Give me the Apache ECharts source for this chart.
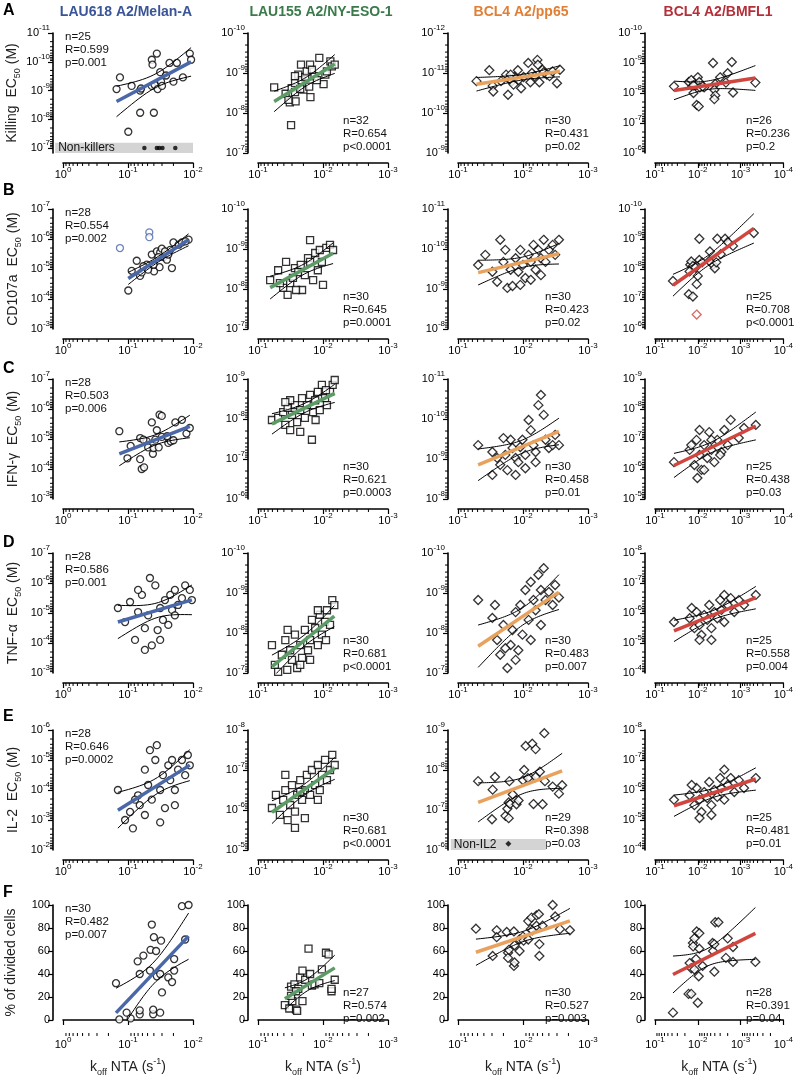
<!DOCTYPE html>
<html>
<head>
<meta charset="utf-8">
<title>koff vs EC50</title>
<script src="https://cdn.jsdelivr.net/npm/echarts@6.0.0/dist/echarts.min.js"></script>
<style>
  html, body { margin: 0; padding: 0; background: #fff; }
  #main { width: 796px; height: 1082px; }
</style>
</head>
<body>
<div id="main"></div>
<script>
const FONT = '"Liberation Sans", Arial, sans-serif'

// ---- text ----
const colTitles = ['LAU618 A2/Melan-A', 'LAU155 A2/NY-ESO-1', 'BCL4 A2/pp65', 'BCL4 A2/BMFL1']
const titleColors = ['#3a5597', '#3b7a4a', '#e07f35', '#b3303a']
const fitColors = ['#4a67a8', '#5c9b65', '#e9a25e', '#d0463f']
const rowLetters = ['A', 'B', 'C', 'D', 'E', 'F']
const rowNames = ['Killing  EC', 'CD107a  EC', 'IFN-\u03b3  EC', 'TNF-\u03b1  EC', 'IL-2  EC', '% of divided cells']

// x axis decades per column (log10), y axis decades per row/column
const xDecades = [[-2, 0], [-3, -1], [-3, -1], [-4, -1]]
const yDecades = [
  [[-11, -7], [-10, -7], [-12, -9], [-10, -6]],
  [[-7, -3], [-10, -7], [-11, -8], [-10, -6]],
  [[-7, -3], [-9, -6], [-11, -8], [-9, -5]],
  [[-7, -3], [-10, -7], [-10, -7], [-8, -4]],
  [[-6, -2], [-8, -5], [-9, -6], [-8, -4]],
]

const statN = [[25, 32, 30, 26], [28, 30, 30, 25], [28, 30, 30, 25], [28, 30, 30, 25], [28, 30, 29, 25], [30, 27, 30, 28]]
const statR = [
  ['0.599', '0.654', '0.431', '0.236'],
  ['0.554', '0.645', '0.423', '0.708'],
  ['0.503', '0.621', '0.458', '0.438'],
  ['0.586', '0.681', '0.483', '0.558'],
  ['0.646', '0.681', '0.398', '0.481'],
  ['0.482', '0.574', '0.527', '0.391'],
]
const statP = [
  ['=0.001', '<0.0001', '=0.02', '=0.2'],
  ['=0.002', '=0.0001', '=0.02', '<0.0001'],
  ['=0.006', '=0.0003', '=0.01', '=0.03'],
  ['=0.001', '<0.0001', '=0.007', '=0.004'],
  ['=0.0002', '<0.0001', '=0.03', '=0.01'],
  ['=0.007', '=0.002', '=0.003', '=0.04'],
]

// ---- data: [koff (s-1), EC50 (M) or % divided] ----
const a1 = [[0.15, 8.9e-10], [0.133, 3.5e-10], [0.088, 6.9e-10], [0.065, 1.0e-9], [0.063, 8.5e-10], [0.065, 5.9e-9],
  [0.040, 5.9e-9], [0.099, 2.7e-8], [0.043, 8.5e-11], [0.042, 1.26e-10], [0.036, 5.2e-11], [0.032, 2.3e-10],
  [0.043, 6.9e-10], [0.039, 6.3e-10], [0.035, 8.9e-10], [0.031, 4.9e-10], [0.030, 6.9e-10], [0.023, 1.1e-10],
  [0.020, 4.9e-10], [0.0177, 1.1e-10], [0.0143, 3.5e-10], [0.0112, 5.2e-11], [0.0107, 8.5e-11], [0.026, 3.0e-10]]
const a1NonKillers = [[0.056, 1e-7], [0.036, 1e-7], [0.033, 1e-7], [0.0295, 1e-7], [0.0187, 1e-7]]
const a2 = [[0.0564, 2.3e-9], [0.0376, 3.3e-9], [0.0324, 5.4e-9], [0.0264, 5.1e-9], [0.0303, 2.4e-9], [0.0269, 1.8e-9],
  [0.024, 1.1e-9], [0.0218, 6.2e-10], [0.0214, 1.5e-9], [0.02, 2.6e-9], [0.0188, 1.26e-9], [0.0178, 9.1e-10],
  [0.0163, 2.2e-9], [0.0158, 6.2e-10], [0.0156, 4e-9], [0.0135, 1.2e-9], [0.0114, 4.2e-10], [0.0098, 1.9e-9],
  [0.0092, 1.1e-9], [0.0087, 9.1e-10], [0.0077, 5.1e-10], [0.0073, 6.8e-10], [0.0066, 6.2e-10], [0.031, 2.0e-8],
  [0.034, 4.7e-9], [0.027, 3e-9], [0.0224, 2.5e-9], [0.0148, 8.3e-10], [0.0124, 1.5e-9], [0.027, 1.2e-9]]
const a3 = [[0.0519, 1.6e-11], [0.033, 8.5e-12], [0.0293, 2.1e-11], [0.0287, 2.9e-11], [0.0218, 1.6e-11], [0.0182, 1.1e-11],
  [0.017, 3.5e-11], [0.0166, 1.4e-11], [0.0148, 1.6e-11], [0.014, 1.95e-11], [0.0135, 1.26e-11], [0.012, 8.5e-12],
  [0.0117, 1.5e-11], [0.0107, 2.4e-11], [0.0098, 1.26e-11], [0.0083, 5.6e-12], [0.0077, 1.7e-11], [0.0073, 1e-11],
  [0.0066, 1.2e-11], [0.006, 4.7e-12], [0.0059, 6.2e-12], [0.0056, 1.7e-11], [0.005, 8.3e-12], [0.0048, 9.6e-12],
  [0.0043, 1.1e-11], [0.0039, 1.2e-11], [0.0035, 9.1e-12], [0.003, 1.8e-11], [0.0027, 8.3e-12], [0.0155, 1.1e-11]]
const a4 = [[0.036, 6e-9], [0.0162, 4.3e-9], [0.0142, 3.7e-9], [0.0134, 6e-9], [0.0126, 1e-8], [0.0113, 5.5e-9],
  [0.01, 3e-9], [0.0092, 4.3e-9], [0.0089, 6.5e-9], [0.0106, 2.5e-8], [0.0095, 2.8e-8], [0.0071, 6.5e-9],
  [0.0044, 1e-9], [0.0039, 5e-9], [0.0041, 7.8e-9], [0.0039, 1.2e-8], [0.0041, 1.6e-8], [0.003, 3e-9],
  [0.0022, 4.5e-9], [0.002, 2.2e-9], [0.0016, 9.3e-10], [0.0015, 9.6e-9], [0.00045, 4.5e-9], [0.0077, 6e-9], [0.0126, 5.5e-9]]

const b1 = [[0.099, 5.2e-5], [0.0877, 1.15e-5], [0.0734, 5.3e-6], [0.0652, 1.7e-5], [0.0615, 1.3e-5], [0.0513, 7.2e-6],
  [0.043, 3.3e-6], [0.0398, 1.2e-5], [0.036, 2.6e-6], [0.0327, 8.7e-6], [0.032, 2.8e-6], [0.0302, 2.1e-6],
  [0.0284, 4e-6], [0.0252, 4.9e-6], [0.024, 3.3e-6], [0.0224, 2.3e-6], [0.0211, 9.3e-6], [0.02, 1.3e-6],
  [0.0166, 1.55e-6], [0.0148, 1.3e-6], [0.0117, 1.05e-6], [0.049, 1.05e-5], [0.0405, 7.2e-6], [0.058, 8.1e-6],
  [0.027, 2.6e-6], [0.034, 4e-6], [0.013, 1.2e-6]]
const b1Excluded = [[0.133, 2e-6], [0.047, 6e-7], [0.047, 8.7e-7]]
const b2 = [[0.065, 6e-9], [0.049, 3.4e-9], [0.041, 9.4e-9], [0.037, 2.1e-9], [0.032, 7.1e-9], [0.029, 5.3e-9],
  [0.027, 3e-9], [0.024, 3.8e-9], [0.022, 2.5e-9], [0.021, 1.06e-8], [0.019, 4.5e-9], [0.017, 1.7e-9],
  [0.0158, 2.1e-9], [0.0142, 6e-9], [0.0132, 1.26e-9], [0.012, 3.4e-9], [0.0112, 1.06e-9], [0.01, 7.9e-9],
  [0.0089, 9.4e-10], [0.0078, 7.9e-10], [0.007, 1.06e-9], [0.026, 1.06e-8], [0.035, 1.4e-8], [0.0158, 6e-10],
  [0.0104, 2.1e-9], [0.046, 7.1e-9]]
const b3 = [[0.049, 2.5e-10], [0.0296, 3.7e-10], [0.025, 6.6e-10], [0.02, 2.1e-10], [0.0174, 9.4e-10], [0.0145, 8.4e-10],
  [0.0155, 3.3e-10], [0.013, 1.7e-10], [0.0118, 3.7e-10], [0.011, 1.05e-10], [0.01, 2.5e-10], [0.0092, 5.3e-10],
  [0.0082, 1.4e-10], [0.0076, 2.1e-10], [0.0069, 7.9e-11], [0.0064, 3.3e-10], [0.0058, 1.05e-10], [0.0053, 1.7e-10],
  [0.0048, 5.9e-11], [0.0045, 2.1e-10], [0.004, 1.05e-10], [0.0035, 7.9e-11], [0.0032, 1.4e-10], [0.0028, 5.9e-11],
  [0.0187, 1.05e-10], [0.0224, 5.9e-11], [0.011, 7.9e-10], [0.0076, 5.9e-10], [0.038, 1.4e-10], [0.0053, 4.5e-10]]
const b4 = [[0.038, 2.5e-8], [0.0162, 6.9e-8], [0.013, 8.3e-8], [0.015, 7.2e-9], [0.0142, 5.6e-9], [0.013, 7.9e-9],
  [0.0106, 3.2e-8], [0.01, 1.7e-8], [0.0092, 5e-9], [0.0092, 9.8e-10], [0.0079, 6e-9], [0.0052, 2.6e-9],
  [0.0044, 7.2e-9], [0.004, 9.5e-9], [0.0037, 6e-9], [0.0035, 9.8e-10], [0.0023, 9.8e-10], [0.002, 1.26e-9],
  [0.0015, 1.7e-9], [0.00049, 6.3e-10], [0.0113, 8.9e-9], [0.0054, 5.4e-9], [0.0155, 1.2e-8], [0.0029, 3.2e-9]]
const b4Excluded = [[0.0106, 3.3e-7]]

const c1 = [[0.136, 5.5e-6], [0.102, 4.4e-5], [0.091, 1.7e-5], [0.065, 4.7e-5], [0.0615, 1e-4], [0.0566, 8.8e-5],
  [0.065, 9.3e-6], [0.0513, 1.2e-5], [0.049, 1.9e-5], [0.043, 2.8e-6], [0.0414, 3.1e-5], [0.0405, 2e-5],
  [0.038, 1.05e-5], [0.036, 5.1e-6], [0.0327, 1.55e-6], [0.0302, 1.7e-6], [0.0302, 8.5e-6], [0.0337, 1.9e-5],
  [0.024, 1.35e-5], [0.022, 1.2e-5], [0.02, 1.1e-5], [0.0187, 2.8e-6], [0.0148, 2.3e-6], [0.0126, 6.6e-6],
  [0.0112, 4.3e-6], [0.025, 8.1e-6], [0.058, 1.05e-5]]
const c2 = [[0.061, 1.06e-8], [0.049, 9.4e-9], [0.041, 6.7e-9], [0.038, 1.4e-8], [0.035, 5.3e-9], [0.032, 1.9e-8],
  [0.030, 7.9e-9], [0.027, 4.5e-9], [0.025, 1.2e-8], [0.0224, 6e-9], [0.021, 3e-9], [0.019, 9.4e-9],
  [0.0177, 4.5e-9], [0.0158, 2.5e-9], [0.0148, 3.3e-8], [0.0142, 6.7e-9], [0.0132, 3.4e-9], [0.012, 2.1e-9],
  [0.0112, 6e-9], [0.0104, 1.4e-9], [0.0093, 3e-9], [0.0087, 4.5e-9], [0.0078, 2.1e-9], [0.0071, 1.4e-9],
  [0.0066, 1.06e-9], [0.0224, 2.1e-8], [0.032, 3.4e-9], [0.013, 1.06e-8], [0.009, 1.9e-9], [0.038, 3.8e-9]]
const c3 = [[0.049, 4.5e-10], [0.0296, 6.7e-10], [0.025, 9.4e-10], [0.0224, 1.4e-9], [0.0187, 7.9e-10], [0.0174, 1.9e-9],
  [0.0155, 3.3e-10], [0.0145, 5.3e-10], [0.013, 9.4e-10], [0.0118, 1.2e-9], [0.011, 5e-10], [0.0102, 3.3e-10],
  [0.0092, 7.9e-10], [0.0082, 1.06e-10], [0.0076, 1.9e-10], [0.0069, 4.5e-10], [0.0064, 6.7e-10], [0.0058, 4.5e-11],
  [0.0053, 2.5e-11], [0.0048, 7.9e-11], [0.0045, 3.3e-10], [0.004, 5.3e-10], [0.0035, 4.5e-10], [0.0032, 2.5e-10],
  [0.0028, 4.5e-10], [0.02, 3e-10], [0.0296, 2.5e-9], [0.013, 2.5e-9], [0.0092, 1.7e-9], [0.0064, 1.2e-9]]
const c4 = [[0.036, 5.9e-7], [0.0155, 2.3e-7], [0.012, 7.4e-7], [0.0107, 1.07e-7], [0.0091, 3.4e-7], [0.0082, 1.07e-6],
  [0.0071, 1.6e-7], [0.006, 4.3e-7], [0.0054, 5.9e-8], [0.0048, 2.3e-7], [0.0041, 5.9e-7], [0.0035, 1.07e-7],
  [0.0028, 2.7e-7], [0.0024, 5e-8], [0.002, 1.6e-7], [0.0017, 2.3e-8], [0.0011, 9.3e-8], [0.00083, 4.3e-8],
  [0.00044, 3.4e-8], [0.0102, 2e-6], [0.0071, 1.07e-6], [0.0048, 1.07e-7], [0.0142, 1.6e-7], [0.0091, 5e-8], [0.003, 3.4e-7]]

const d1 = [[0.143, 6.8e-6], [0.111, 2e-5], [0.093, 4.3e-6], [0.078, 7.9e-5], [0.07, 9.3e-6], [0.061, 2.5e-6],
  [0.055, 3.2e-5], [0.049, 1.2e-5], [0.046, 6.8e-7], [0.043, 1.2e-4], [0.038, 1.2e-6], [0.035, 3.7e-5],
  [0.032, 6.8e-6], [0.029, 1.7e-5], [0.027, 3.7e-6], [0.024, 2.5e-5], [0.0224, 2.5e-6], [0.021, 7.9e-6],
  [0.019, 1.7e-6], [0.017, 5.4e-6], [0.0148, 3.2e-6], [0.0132, 1.2e-6], [0.0112, 1.7e-6], [0.0104, 3.7e-6],
  [0.055, 1.7e-4], [0.07, 1.7e-6], [0.032, 7.9e-5], [0.019, 1.2e-5]]
const d2 = [[0.061, 2e-8], [0.055, 6.3e-8], [0.049, 9.4e-8], [0.043, 3.5e-8], [0.038, 1.5e-8], [0.0355, 8.4e-8],
  [0.032, 2.7e-8], [0.030, 4.7e-8], [0.027, 1.1e-8], [0.025, 7.5e-8], [0.0224, 2e-8], [0.021, 4.2e-8],
  [0.019, 8.4e-9], [0.017, 2.7e-8], [0.0158, 1.5e-8], [0.0148, 4.7e-9], [0.0132, 7.5e-9], [0.012, 2e-8],
  [0.0112, 3.5e-9], [0.0104, 1.1e-8], [0.0093, 5.3e-9], [0.0087, 2.7e-9], [0.0078, 6.3e-9], [0.0072, 1.5e-9],
  [0.0067, 2e-9], [0.0224, 6.3e-8], [0.035, 8.4e-9], [0.0158, 4.7e-8], [0.012, 2.7e-9], [0.009, 1.5e-8]]
const d3 = [[0.049, 1.5e-9], [0.0296, 4.2e-9], [0.025, 1.5e-8], [0.0224, 3.5e-8], [0.02, 6.3e-9], [0.0174, 7.5e-8],
  [0.0155, 2e-8], [0.0145, 8.4e-9], [0.013, 3e-9], [0.0118, 2.7e-8], [0.011, 2e-9], [0.0102, 1.1e-8],
  [0.0092, 8.4e-10], [0.0082, 4.7e-9], [0.0076, 5.3e-10], [0.0069, 1.5e-9], [0.0064, 2.7e-9], [0.0058, 3.5e-10],
  [0.0053, 8.4e-10], [0.0048, 2.4e-10], [0.0045, 1.5e-9], [0.004, 9.4e-10], [0.0035, 2e-9], [0.0032, 6.3e-10],
  [0.0028, 1.3e-9], [0.0187, 2.4e-8], [0.013, 4.7e-8], [0.0076, 1.5e-8], [0.0053, 6.3e-9], [0.027, 2e-9]]
const d4 = [[0.036, 2e-6], [0.0155, 1.5e-6], [0.012, 3.2e-6], [0.0107, 9.3e-7], [0.0091, 2.5e-6], [0.0082, 5.4e-6],
  [0.0071, 1.17e-6], [0.006, 1.7e-6], [0.0054, 5.4e-7], [0.0048, 3.2e-6], [0.0041, 9.3e-7], [0.0035, 1.5e-6],
  [0.003, 3.7e-7], [0.0028, 7.9e-7], [0.0024, 2e-6], [0.002, 5.4e-7], [0.0017, 3.2e-7], [0.0014, 9.3e-7],
  [0.0011, 3.7e-7], [0.00083, 5.4e-7], [0.00044, 2.5e-7], [0.0091, 7.9e-6], [0.0048, 7.9e-6], [0.0139, 6.8e-7], [0.0024, 2.5e-7]]

const e1 = [[0.143, 1e-4], [0.111, 1e-3], [0.093, 5.4e-4], [0.084, 1.9e-3], [0.07, 1.5e-4], [0.066, 3.2e-4],
  [0.055, 2.1e-5], [0.049, 6.8e-5], [0.046, 4.7e-6], [0.043, 2.1e-4], [0.038, 1e-5], [0.036, 3.2e-6],
  [0.032, 1e-4], [0.029, 3.2e-5], [0.027, 4e-4], [0.024, 1.5e-5], [0.0224, 4.7e-5], [0.021, 1e-5],
  [0.019, 1e-4], [0.017, 2.1e-5], [0.0148, 1e-5], [0.0132, 3.2e-5], [0.012, 6.8e-6], [0.0112, 1.5e-5],
  [0.055, 6.8e-4], [0.078, 2.1e-4], [0.032, 1.2e-3], [0.019, 3.2e-4]]
const e2 = [[0.061, 8.9e-7], [0.053, 4.2e-7], [0.046, 1.33e-6], [0.041, 5.6e-7], [0.038, 3.2e-7], [0.035, 1.8e-6],
  [0.032, 7.5e-7], [0.030, 2.4e-7], [0.027, 1.1e-6], [0.025, 4.2e-7], [0.0224, 1.8e-7], [0.021, 5.6e-7],
  [0.019, 3.2e-7], [0.0177, 1.33e-7], [0.0158, 4.2e-7], [0.0148, 1e-7], [0.0132, 2.4e-7], [0.012, 7.5e-8],
  [0.0112, 3.2e-7], [0.0104, 1.33e-7], [0.0093, 5.6e-8], [0.0087, 1.8e-7], [0.0078, 1e-7], [0.0072, 4.2e-8],
  [0.0066, 7.5e-8], [0.027, 2.8e-6], [0.019, 1.6e-6], [0.038, 1.33e-7], [0.012, 5.6e-7], [0.0224, 3.5e-7]]
const e3 = [[0.049, 1.9e-8], [0.027, 1.5e-8], [0.0293, 3.1e-8], [0.0162, 1.9e-8], [0.0186, 1.4e-7], [0.0174, 9.3e-8],
  [0.0166, 6.5e-8], [0.0158, 7.1e-8], [0.0144, 4.1e-8], [0.0126, 7.2e-8], [0.0117, 5.8e-8], [0.01, 1.8e-8],
  [0.0096, 1e-8], [0.0091, 2.5e-9], [0.0076, 1.6e-8], [0.0072, 2.2e-9], [0.0064, 3e-9], [0.0064, 1.5e-8],
  [0.0055, 1.1e-8], [0.0069, 7.1e-8], [0.005, 7.2e-8], [0.0046, 1.9e-8], [0.0047, 1.2e-9], [0.0035, 2.6e-8],
  [0.0028, 3.9e-8], [0.0025, 2.4e-8], [0.03, 1.7e-7], [0.0166, 1.6e-7], [0.0084, 1.6e-8]]
const e3NonIL2 = [[0.0168, 7e-7]]
const e4 = [[0.036, 2.1e-6], [0.0155, 1.5e-6], [0.012, 3.2e-6], [0.0107, 8.6e-7], [0.0091, 2.1e-6], [0.0082, 5.4e-6],
  [0.0071, 1.17e-6], [0.006, 1.85e-6], [0.0054, 5.4e-7], [0.0048, 3.2e-6], [0.0041, 1e-6], [0.0035, 1.7e-6],
  [0.003, 4e-7], [0.0028, 8.6e-7], [0.0024, 2.1e-6], [0.002, 6.8e-7], [0.0017, 4e-7], [0.0014, 1.17e-6],
  [0.0011, 4.7e-7], [0.00083, 8.6e-7], [0.00044, 4e-7], [0.0091, 8.6e-6], [0.0048, 6.8e-6], [0.0024, 2.1e-7], [0.0139, 6.8e-7]]

const f1 = [[0.153, 32], [0.136, 0.5], [0.105, 6.4], [0.091, 1.4], [0.071, 51], [0.066, 4.9], [0.066, 8.4], [0.066, 40],
  [0.058, 56], [0.046, 43], [0.045, 61], [0.043, 83], [0.041, 5], [0.041, 9], [0.040, 72], [0.037, 60], [0.036, 38],
  [0.032, 6.4], [0.032, 40], [0.031, 69], [0.030, 24], [0.024, 37], [0.021, 33], [0.0195, 53], [0.0195, 43],
  [0.0148, 99], [0.0132, 70], [0.0117, 100]]
const f2 = [[0.0386, 13], [0.033, 10], [0.031, 29], [0.0296, 16.5], [0.0275, 31], [0.026, 9], [0.025, 8], [0.031, 21],
  [0.024, 27], [0.0225, 37], [0.0207, 43], [0.0207, 16.5], [0.0188, 35], [0.0167, 62], [0.0158, 40], [0.0148, 30],
  [0.0135, 31], [0.0114, 32], [0.0104, 44], [0.009, 58.5], [0.0082, 57], [0.0074, 25], [0.0074, 27], [0.0066, 35], [0.026, 25]]
const f3 = [[0.053, 79.4], [0.0293, 55.7], [0.0254, 78], [0.0254, 72], [0.0178, 76.5], [0.017, 58.5], [0.017, 54],
  [0.0165, 61], [0.0138, 77], [0.0138, 47], [0.0135, 50], [0.0135, 65], [0.0113, 70], [0.0113, 60], [0.01, 72.5],
  [0.0098, 69], [0.0083, 70], [0.0083, 86], [0.0076, 79], [0.0072, 78], [0.0074, 89], [0.0062, 82], [0.0062, 91],
  [0.0056, 55.7], [0.0056, 66], [0.005, 82], [0.0035, 100], [0.0032, 90], [0.0027, 79], [0.0019, 78], [0.0057, 92]]
const f4 = [[0.038, 6.4], [0.0164, 22.7], [0.0142, 22.7], [0.013, 67], [0.0128, 64], [0.0155, 49.5], [0.0142, 45],
  [0.012, 71], [0.0106, 77], [0.0092, 75.5], [0.01, 15], [0.0095, 38], [0.0092, 62], [0.0077, 47], [0.011, 53],
  [0.0045, 67], [0.0044, 60], [0.0041, 66], [0.0039, 85], [0.0033, 85], [0.0041, 42], [0.0022, 54], [0.002, 71],
  [0.0015, 63.5], [0.0015, 50.5], [0.00045, 50.5], [0.012, 44]]

// grey "non responder" bands: [xFrom, xTo, yFrom, yTo]
const nonKillerBand = [1.32, 0.01, 6.5e-8, 1.48e-7]
const nonIL2Band = [0.129, 0.0044, 5.3e-7, 1e-6]

const panels = [[a1, a2, a3, a4], [b1, b2, b3, b4], [c1, c2, c3, c4], [d1, d2, d3, d4], [e1, e2, e3, e4], [f1, f2, f3, f4]]

// ---- layout ----
const gridLefts = [63, 258, 458, 655]
const gridWidth = 130
const rowTops = [33, 209, 379, 553, 730, 905]
const rowHeights = [120, 120, 120, 120, 120, 115]
const statX = [65, 343, 545, 746]
const symbols = ['circle', 'rect', 'diamond', 'diamond']
const symbolSizes = [7, 7, 9, 9]

const powRich = {
  b: { fontSize: 11, lineHeight: 18, fontFamily: FONT, color: '#000' },
  s: { fontSize: 8, lineHeight: 9, verticalAlign: 'top', fontFamily: FONT, color: '#000' },
}
function powLabel(v) {
  const e = Math.log10(v)
  if (Math.abs(e - Math.round(e)) > 0.01) return ''
  return '{b|10}{s|' + Math.round(e) + '}'
}

// least squares fit + 95% confidence band, in log10(x) vs (log10) y
function regression(points, logY) {
  const xs = points.map(p => Math.log10(p[0]))
  const ys = points.map(p => (logY ? Math.log10(p[1]) : p[1]))
  const n = xs.length
  const mx = xs.reduce((a, b) => a + b, 0) / n
  const my = ys.reduce((a, b) => a + b, 0) / n
  let sxx = 0, sxy = 0
  xs.forEach((x, i) => { sxx += (x - mx) ** 2; sxy += (x - mx) * (ys[i] - my) })
  const slope = sxy / sxx
  const icpt = my - slope * mx
  let sse = 0
  xs.forEach((x, i) => { sse += (ys[i] - icpt - slope * x) ** 2 })
  const s = Math.sqrt(sse / (n - 2))
  const t = 1.96 + 2.4 / (n - 2)
  const x0 = Math.min(...xs), x1 = Math.max(...xs)
  const back = v => (logY ? Math.pow(10, v) : v)
  const fit = [[Math.pow(10, x0), back(icpt + slope * x0)], [Math.pow(10, x1), back(icpt + slope * x1)]]
  const hi = [], lo = []
  for (let i = 0; i <= 40; i++) {
    const x = x0 + (x1 - x0) * i / 40
    const yh = icpt + slope * x
    const d = t * s * Math.sqrt(1 / n + (x - mx) ** 2 / sxx)
    hi.push([Math.pow(10, x), back(yh + d)])
    lo.push([Math.pow(10, x), back(yh - d)])
  }
  return { fit, hi, lo }
}

function minorLogValues(lo, hi) {
  const out = []
  for (let e = lo; e < hi; e++) for (let k = 2; k <= 9; k++) out.push(k * Math.pow(10, e))
  return out
}

const grids = [], xAxes = [], yAxes = [], series = [], graphics = []

panels.forEach((row, r) => {
  row.forEach((pts, c) => {
    const gi = r * 4 + c
    const isPct = r === 5
    const top = rowTops[r], height = rowHeights[r]
    grids.push({ left: gridLefts[c], top: top, width: gridWidth, height: height })

    const xd = xDecades[c]
    xAxes.push({
      gridIndex: gi, type: 'log', logBase: 10, inverse: true,
      min: Math.pow(10, xd[0]), max: Math.pow(10, xd[1]), offset: isPct ? 13 : 10,
      axisLine: { lineStyle: { color: '#000', width: 1.6 } },
      axisTick: { length: 5, lineStyle: { color: '#000', width: 1.2 } },
      axisLabel: { formatter: powLabel, rich: powRich, margin: 3, showMinLabel: true, showMaxLabel: true },
      splitLine: { show: false },
      name: isPct ? '{n|k}{d|off}{n| NTA (s}{u|-1}{n|)}' : '',
      nameLocation: 'middle', nameGap: 24,
      nameTextStyle: {
        rich: {
          n: { fontSize: 14, lineHeight: 20, fontFamily: FONT, color: '#222' },
          d: { fontSize: 9, lineHeight: 11, verticalAlign: 'bottom', fontFamily: FONT, color: '#222' },
          u: { fontSize: 9, lineHeight: 11, verticalAlign: 'top', fontFamily: FONT, color: '#222' },
        },
      },
    })

    let yMax
    const xEdge = Math.pow(10, xd[1])
    const yName = c === 0
      ? (isPct ? '{n|' + rowNames[r] + '}' : '{n|' + rowNames[r] + '}{d|50}{n| (M)}')
      : ''
    const yNameStyle = {
      rich: {
        n: { fontSize: 14, lineHeight: 20, fontFamily: FONT, color: '#222' },
        d: { fontSize: 9, lineHeight: 12, verticalAlign: 'bottom', fontFamily: FONT, color: '#222' },
      },
    }
    if (isPct) {
      yMax = 100
      yAxes.push({
        gridIndex: gi, type: 'value', min: 0, max: 100, interval: 20, offset: 10,
        axisLine: { show: true, lineStyle: { color: '#000', width: 1.6 } },
        axisTick: { show: true, length: 5, lineStyle: { color: '#000', width: 1.2 } },
        axisLabel: { fontSize: 11, fontFamily: FONT, color: '#000', margin: 3 },
        splitLine: { show: false },
        name: yName, nameLocation: 'middle', nameRotate: 90, nameGap: 32, nameTextStyle: yNameStyle,
      })
    } else {
      const yd = yDecades[r][c]
      yMax = (r === 0 && c === 0) ? 1.48e-7 : Math.pow(10, yd[1])
      const majors = []
      for (let e = yd[0]; e <= yd[1]; e++) majors.push(Math.pow(10, e))
      yAxes.push({
        gridIndex: gi, type: 'log', logBase: 10, inverse: true, min: Math.pow(10, yd[0]), max: yMax, offset: 10,
        axisLine: { lineStyle: { color: '#000', width: 1.6 } },
        axisTick: { length: 5, lineStyle: { color: '#000', width: 1.2 }, customValues: majors },
        axisLabel: { formatter: powLabel, rich: powRich, margin: 3, showMinLabel: true, showMaxLabel: true },
        splitLine: { show: false },
        name: yName, nameLocation: 'middle', nameRotate: 90, nameGap: 30, nameTextStyle: yNameStyle,
      })
    }
    const yBottom = isPct ? 0 : yMax

    // minor ticks (x always log; y log except % row)
    const tickData = minorLogValues(xd[0], xd[1]).map(v => [v, yBottom, 0])
    if (!isPct) {
      const yd = yDecades[r][c]
      minorLogValues(yd[0], yd[1]).filter(v => v <= yMax).forEach(v => tickData.push([xEdge, v, 1]))
    }
    const xOff = isPct ? 13 : 10
    series.push({
      type: 'custom', xAxisIndex: gi, yAxisIndex: gi, silent: true, clip: false, z: 3,
      data: tickData,
      renderItem: (params, api) => {
        const p = api.coord([api.value(0), api.value(1)])
        const shape = api.value(2) === 0
          ? { x1: p[0], y1: p[1] + xOff, x2: p[0], y2: p[1] + xOff + 3 }
          : { x1: p[0] - 10, y1: p[1], x2: p[0] - 13, y2: p[1] }
        return { type: 'line', shape: shape, style: { stroke: '#000', lineWidth: 1 } }
      },
    })

    // grey bands
    const band = (r === 0 && c === 0) ? [nonKillerBand, 'Non-killers'] : (r === 4 && c === 2) ? [nonIL2Band, 'Non-IL2'] : null
    if (band) {
      series.push({
        type: 'custom', xAxisIndex: gi, yAxisIndex: gi, silent: true, clip: false, z: 1,
        data: [band[0]], encode: { x: [0, 1], y: [2, 3] },
        renderItem: (params, api) => {
          const p0 = api.coord([api.value(0), api.value(2)])
          const p1 = api.coord([api.value(1), api.value(3)])
          const x = Math.min(p0[0], p1[0]), y = Math.min(p0[1], p1[1])
          const w = Math.abs(p1[0] - p0[0]), h = Math.abs(p1[1] - p0[1])
          return {
            type: 'group',
            children: [
              { type: 'rect', shape: { x: x, y: y, width: w, height: h }, style: { fill: '#d4d4d4' } },
              { type: 'text', style: { text: band[1], x: x + 3, y: y + h / 2, verticalAlign: 'middle', fontSize: 12, fontFamily: FONT, fill: '#111' } },
            ],
          }
        },
      })
    }

    // points
    series.push({
      type: 'scatter', xAxisIndex: gi, yAxisIndex: gi, data: pts, z: 2,
      symbol: symbols[c], symbolSize: symbolSizes[c],
      itemStyle: { color: '#fff', borderColor: '#000', borderWidth: 1.3 },
    })
    if (r === 0 && c === 0) {
      series.push({ type: 'scatter', xAxisIndex: gi, yAxisIndex: gi, data: a1NonKillers, z: 2, symbol: 'circle', symbolSize: 4.5, itemStyle: { color: '#000' } })
    }
    if (r === 4 && c === 2) {
      series.push({ type: 'scatter', xAxisIndex: gi, yAxisIndex: gi, data: e3NonIL2, z: 2, symbol: 'diamond', symbolSize: 6, itemStyle: { color: '#000' } })
    }
    if (r === 1 && (c === 0 || c === 3)) {
      series.push({
        type: 'scatter', xAxisIndex: gi, yAxisIndex: gi, data: c === 0 ? b1Excluded : b4Excluded, z: 2,
        symbol: symbols[c], symbolSize: symbolSizes[c],
        itemStyle: { color: '#fff', borderColor: fitColors[c], borderWidth: 1.3 },
      })
    }

    // regression + confidence band
    if (pts.length > 3) {
      const reg = regression(pts, !isPct)
      const lineBase = { type: 'line', xAxisIndex: gi, yAxisIndex: gi, showSymbol: false, silent: true, z: 4 }
      series.push(Object.assign({}, lineBase, { data: reg.hi, lineStyle: { color: '#000', width: 1 } }))
      series.push(Object.assign({}, lineBase, { data: reg.lo, lineStyle: { color: '#000', width: 1 } }))
      series.push(Object.assign({}, lineBase, { data: reg.fit, z: 5, lineStyle: { color: fitColors[c], width: 3.5 } }))
    }

    // stats text
    const topLeft = c === 0
    graphics.push({
      type: 'text', left: statX[c], top: topLeft ? top - 3 : top + 81,
      style: {
        text: 'n=' + statN[r][c] + '\nR=' + statR[r][c] + '\np' + statP[r][c],
        fontSize: 11.5, lineHeight: 13, fontFamily: FONT, fill: '#111',
      },
    })
  })
})

colTitles.forEach((t, c) => {
  graphics.push({
    type: 'text', x: gridLefts[c] + gridWidth / 2 - 2, y: 5,
    style: { text: t, fontSize: 14, fontWeight: 'bold', fontFamily: FONT, fill: titleColors[c], align: 'center' },
  })
})
const letterY = [3, 183, 361, 535, 709, 885]
rowLetters.forEach((l, r) => {
  graphics.push({
    type: 'text', x: 3, y: letterY[r],
    style: { text: l, fontSize: 16, fontWeight: 'bold', fontFamily: FONT, fill: '#000' },
  })
})

const chart = echarts.init(document.getElementById('main'))
chart.setOption({
  animation: false,
  backgroundColor: '#fff',
  grid: grids,
  xAxis: xAxes,
  yAxis: yAxes,
  series: series,
  graphic: graphics,
})
</script>
</body>
</html>
